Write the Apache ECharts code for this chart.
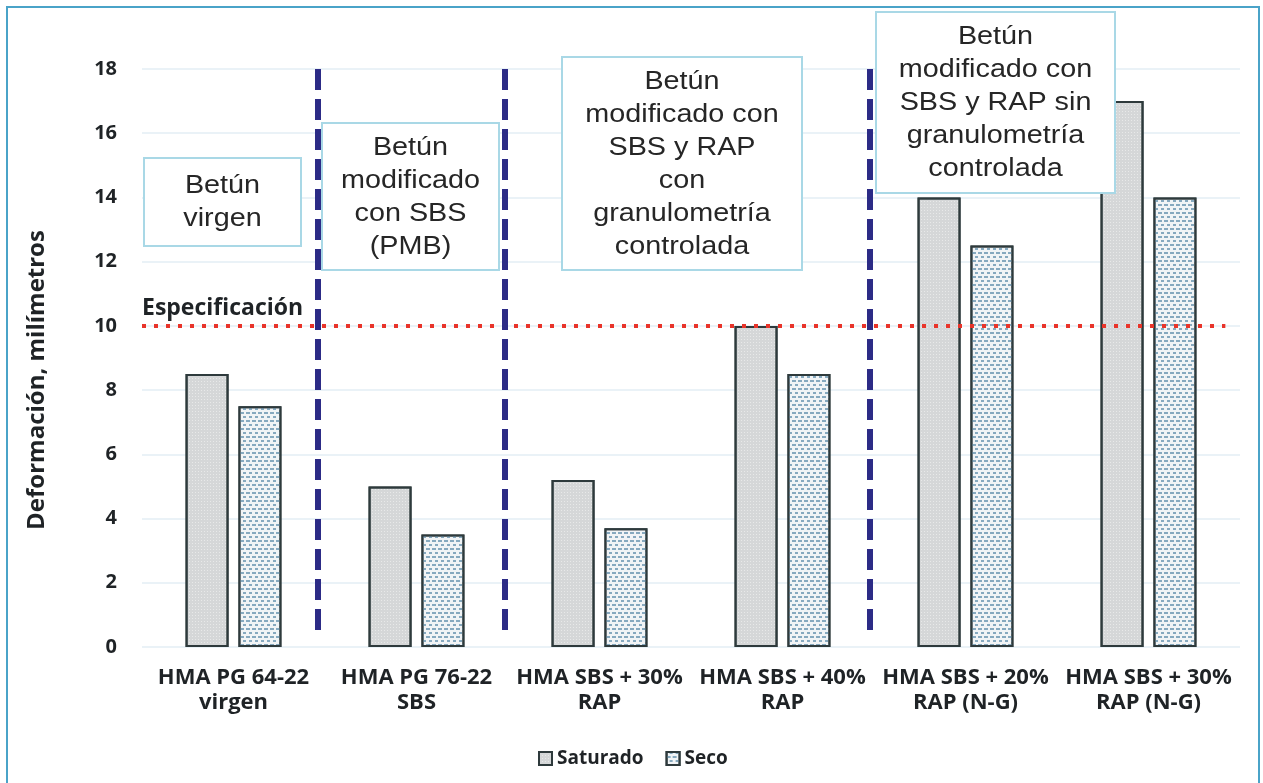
<!DOCTYPE html>
<html>
<head>
<meta charset="utf-8">
<script src="https://cdn.jsdelivr.net/npm/echarts@6/dist/echarts.min.js"></script>
<style>
  html, body { margin: 0; padding: 0; background: #fff; }
  #chart { width: 1263px; height: 783px; }
</style>
</head>
<body>
<div id="chart"></div>
<script>
const categories = [
  'HMA PG 64-22\nvirgen',
  'HMA PG 76-22\nSBS',
  'HMA SBS + 30%\nRAP',
  'HMA SBS + 40%\nRAP',
  'HMA SBS + 20%\nRAP (N-G)',
  'HMA SBS + 30%\nRAP (N-G)'
];
const saturado = [8.5, 5.0, 5.2, 10.0, 14.0, 17.0];
const seco = [7.5, 3.5, 3.7, 8.5, 12.5, 14.0];
const especificacion = 10;
// separators, in category units (0 = left edge of the first group)
const separators = [0.962, 1.984, 3.978];
const boxTexts = [
  'Betún\nvirgen',
  'Betún\nmodificado\ncon SBS\n(PMB)',
  'Betún\nmodificado con\nSBS y RAP\ncon\ngranulometría\ncontrolada',
  'Betún\nmodificado con\nSBS y RAP sin\ngranulometría\ncontrolada'
];

const chart = echarts.init(document.getElementById('chart'));

const boldFont = 'Open Sans';
const textColor = '#1f2326';

// annotation boxes: [x, y, w, h]
const boxRects = [
  [144, 158, 157, 88],
  [322, 123, 177, 147],
  [562, 57, 240, 213],
  [876, 12, 239, 181]
];

const graphics = [];
boxRects.forEach((r, i) => {
  graphics.push({
    type: 'rect',
    z: 100,
    shape: {x: r[0], y: r[1], width: r[2], height: r[3]},
    style: {fill: '#fff', stroke: '#a9d8e6', lineWidth: 2}
  });
  graphics.push({
    type: 'text',
    z: 101,
    x: r[0] + r[2] / 2,
    y: r[1] + r[3] / 2 + 1,
    scaleX: 1.15,
    style: {
      text: boxTexts[i],
      fontFamily: 'Liberation Sans',
      fontSize: 25,
      lineHeight: 33,
      fill: '#262626',
      align: 'center',
      verticalAlign: 'middle'
    }
  });
});
graphics.push({
  type: 'polyline',
  z: 120,
  shape: {points: [[7, 790], [7, 7], [1259, 7], [1259, 790]]},
  style: {stroke: '#4aa3c8', lineWidth: 2, fill: null}
});

const sepLines = separators.map(v => [
  {coord: [v, 18]},
  {coord: [v, 0.3]}
]);

chart.setOption({
  backgroundColor: '#fff',
  animation: false,
  grid: {left: 142, right: 23, top: 69, bottom: 136},
  legend: {
    data: ['Saturado', 'Seco'],
    left: 533,
    top: 744,
    icon: 'rect',
    itemWidth: 13,
    itemHeight: 13,
    itemGap: 22,
    textStyle: {fontFamily: boldFont, fontWeight: 'bold', fontSize: 19, color: textColor}
  },
  xAxis: [{
    type: 'category',
    data: categories,
    axisLine: {show: false},
    axisTick: {show: false},
    axisLabel: {
      interval: 0,
      margin: 18,
      fontFamily: boldFont,
      fontWeight: 'bold',
      fontSize: 22,
      lineHeight: 25,
      color: textColor
    }
  }, {
    type: 'value',
    min: 0,
    max: 6,
    show: false
  }],
  yAxis: {
    type: 'value',
    min: 0,
    max: 18,
    interval: 2,
    name: 'Deformación, milímetros',
    nameLocation: 'middle',
    nameGap: 93,
    nameTextStyle: {
      fontFamily: boldFont,
      fontWeight: 'bold',
      fontSize: 24,
      color: textColor,
      padding: [0, 44, 0, 0]
    },
    axisLine: {show: false},
    axisTick: {show: false},
    axisLabel: {
      margin: 25,
      fontFamily: boldFont,
      fontWeight: 'bold',
      fontSize: 20,
      color: textColor
    },
    splitLine: {lineStyle: {color: '#e3eef5', width: 1.5}}
  },
  series: [{
    name: 'Saturado',
    type: 'bar',
    data: saturado,
    barWidth: 43,
    barGap: '23%',
    itemStyle: {
      color: '#d5d7d8',
      borderColor: '#2e3a3c',
      borderWidth: 2,
      decal: {
        symbol: 'rect',
        symbolSize: 1,
        dashArrayX: [1, 1.5],
        dashArrayY: [1, 1.5],
        color: 'rgba(255,255,255,0.45)'
      }
    },
    silent: true
  }, {
    name: 'Seco',
    type: 'bar',
    data: seco,
    barWidth: 43,
    itemStyle: {
      color: '#f1f4f6',
      borderColor: '#2e3a3c',
      borderWidth: 2,
      decal: {
        symbol: 'rect',
        symbolSize: 1,
        dashArrayX: [[4, 2], [0, 3, 3, 0]],
        dashArrayY: [1.5, 2],
        color: '#86a9bf'
      }
    },
    silent: true
  }, {
    name: 'marks',
    type: 'line',
    xAxisIndex: 1,
    data: [],
    silent: true,
    markLine: {
      silent: true,
      symbol: ['none', 'none'],
      animation: false,
      data: [
        [
          {
            coord: [0, especificacion],
            lineStyle: {color: '#e8342a', width: 4, type: [4, 8]},
            label: {
              show: true,
              position: 'insideStartTop',
              formatter: 'Especificación',
              distance: [0, 6],
              fontFamily: boldFont,
              fontWeight: 'bold',
              fontSize: 23,
              color: textColor
            }
          },
          {coord: [5.92, especificacion]}
        ]
      ].concat(sepLines.map(pair => [
        Object.assign({}, pair[0], {
          lineStyle: {color: '#2c2b86', width: 6, type: [21, 9]},
          label: {show: false}
        }),
        pair[1]
      ]))
    }
  }],
  graphic: graphics
});
</script>
</body>
</html>
